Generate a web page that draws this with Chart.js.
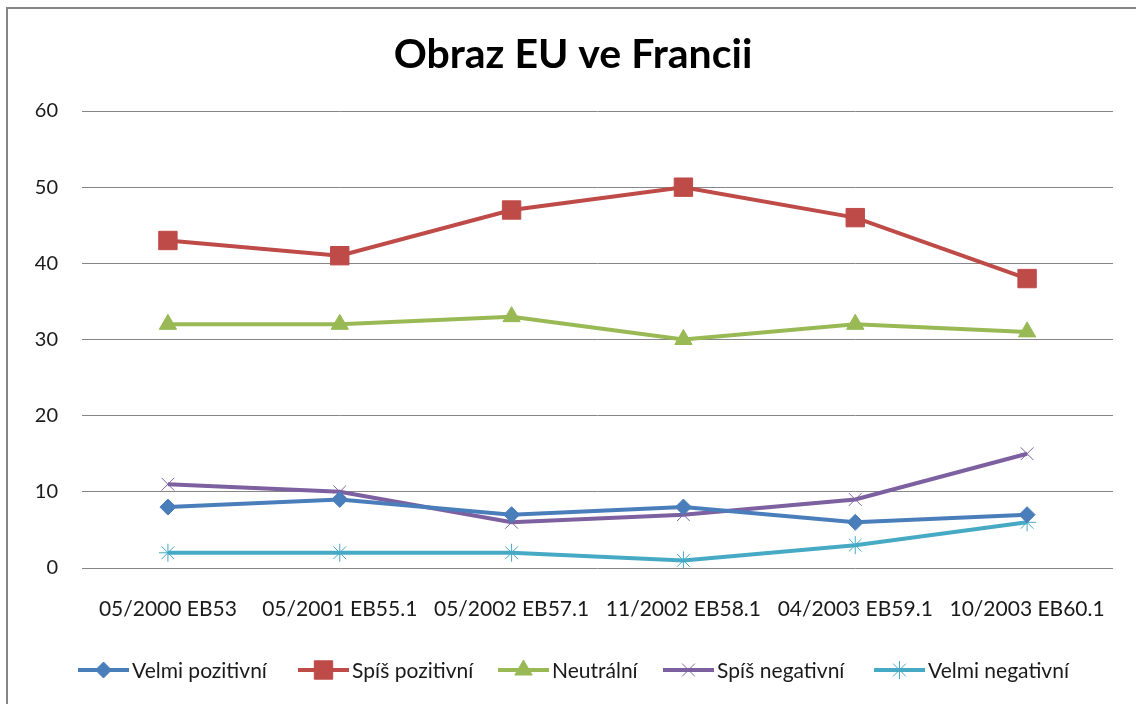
<!DOCTYPE html>
<html>
<head>
<meta charset="utf-8">
<style>
  html, body { margin: 0; padding: 0; background: #fff; }
  #wrap { position: relative; width: 1136px; height: 704px; overflow: hidden; }
  #frame { position: absolute; left: 6px; top: 7px; width: 1200px; height: 800px; border: 2px solid #868686; box-sizing: border-box; }
  canvas { position: absolute; left: 0; top: 0; }
</style>
<script src="https://cdn.jsdelivr.net/npm/chart.js@4.4.0/dist/chart.umd.min.js"></script>
</head>
<body>
<div id="wrap">
  <div id="frame"></div>
  <canvas id="c" width="1136" height="704"></canvas>
</div>
<script>
const categories = ['05/2000 EB53', '05/2001 EB55.1', '05/2002 EB57.1', '11/2002 EB58.1', '04/2003 EB59.1', '10/2003 EB60.1'];
const velmiPozitivni = [8, 9, 7, 8, 6, 7];
const spisPozitivni = [43, 41, 47, 50, 46, 38];
const neutralni = [32, 32, 33, 30, 32, 31];
const spisNegativni = [11, 10, 6, 7, 9, 15];
const velmiNegativni = [2, 2, 2, 1, 3, 6];
const yTicks = [0, 10, 20, 30, 40, 50, 60];
const titleText = 'Obraz EU ve Francii';

const FONT = 'Lato, "Open Sans", sans-serif';

const series = [
  { label: 'Velmi pozitivní', data: velmiPozitivni, color: '#4A7EBB', style: 'rectRot', r: 8, bw: 1 },
  { label: 'Spíš pozitivní', data: spisPozitivni, color: '#BE4B48', style: 'rect', r: 13, bw: 1 },
  { label: 'Neutrální', data: neutralni, color: '#98B954', style: 'triangle', r: 10, bw: 1 },
  { label: 'Spíš negativní', data: spisNegativni, color: '#7D60A0', style: 'crossRot', r: 9, bw: 1 },
  { label: 'Velmi negativní', data: velmiNegativni, color: '#46AAC5', style: 'star', r: 9, bw: 1 }
];

const datasets = series.map(s => ({
  label: s.label,
  data: s.data,
  borderColor: s.color,
  backgroundColor: s.color,
  borderWidth: 4,
  pointStyle: s.style,
  pointRadius: s.r,
  pointHoverRadius: s.r,
  pointBorderWidth: s.bw,
  pointBorderColor: s.color,
  pointBackgroundColor: s.color,
  tension: 0,
  fill: false
}));

const titlePlugin = {
  id: 'fixedTitle',
  afterDraw(chart) {
    const ctx = chart.ctx;
    ctx.save();
    ctx.font = 'bold 41px ' + FONT;
    ctx.fillStyle = '#000';
    ctx.textAlign = 'center';
    ctx.textBaseline = 'middle';
    ctx.fillText(titleText, 573, 55);
    ctx.restore();
  }
};

const legendPlugin = {
  id: 'lineLegend',
  afterDraw(chart) {
    const ctx = chart.ctx;
    const y = 670;
    const starts = [78, 298, 498, 663, 874];
    ctx.save();
    ctx.font = '21px ' + FONT;
    ctx.textBaseline = 'middle';
    ctx.textAlign = 'left';
    series.forEach((s, i) => {
      const x0 = starts[i];
      const x1 = x0 + 51;
      ctx.strokeStyle = s.color;
      ctx.lineWidth = 4;
      ctx.beginPath();
      ctx.moveTo(x0, y);
      ctx.lineTo(x1, y);
      ctx.stroke();
      ctx.fillStyle = s.color;
      ctx.strokeStyle = s.color;
      ctx.lineWidth = s.bw;
      Chart.helpers.drawPoint(ctx, { pointStyle: s.style, radius: s.r, borderWidth: s.bw, rotation: 0 }, (x0 + x1) / 2, y);
      ctx.fillStyle = '#1a1a1a';
      ctx.fillText(s.label, x1 + 3, y + 1);
    });
    ctx.restore();
  }
};

new Chart(document.getElementById('c'), {
  type: 'line',
  data: { labels: categories, datasets },
  options: {
    responsive: false,
    animation: false,
    layout: { padding: { left: 0, right: 23, top: 111, bottom: 76 } },
    plugins: {
      legend: { display: false },
      tooltip: { enabled: false },
      title: { display: false }
    },
    scales: {
      x: {
        offset: true,
        grid: { display: false, drawTicks: false },
        border: { display: false },
        ticks: { color: '#1a1a1a', font: { family: FONT, size: 21 }, padding: 29, maxRotation: 0, autoSkip: false },
        afterFit(scale) { scale.height = 60; }
      },
      y: {
        min: 0, max: 60,
        afterBuildTicks(scale) { scale.ticks = yTicks.map(v => ({ value: v })); },
        grid: { color: '#868686', lineWidth: 1, drawTicks: false },
        border: { display: false },
        ticks: { color: '#1a1a1a', font: { family: FONT, size: 20 }, padding: 24 },
        afterFit(scale) { scale.width = 82; }
      }
    }
  },
  plugins: [titlePlugin, legendPlugin]
});
</script>
</body>
</html>
